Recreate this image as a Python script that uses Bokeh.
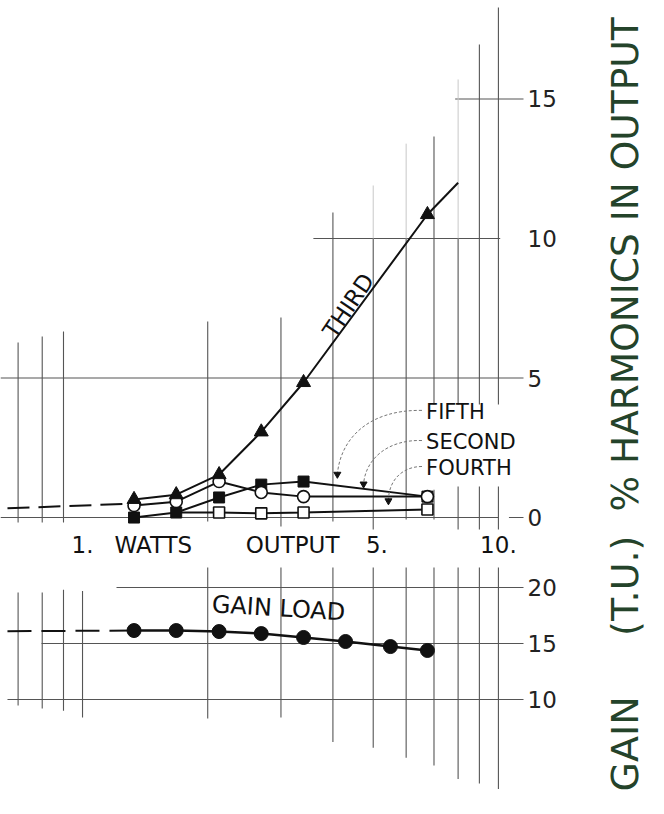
import math
from bokeh.plotting import figure
from bokeh.models import Range1d, FixedTicker
from bokeh.layouts import column, row
from bokeh.embed import file_html
from bokeh.resources import INLINE
from bokeh.core.properties import value

NBSP = "\u00a0"

# ---------------- data ----------------
# watts output at the measured points (log scale)
watts = [1.33, 1.68, 2.13, 2.69, 3.40, 4.29, 5.50, 6.75]

# % harmonics in output
third_w = [1.33, 1.68, 2.13, 2.69, 3.40, 6.75]
third = [0.65, 0.82, 1.54, 3.07, 4.84, 10.86]
third_end_w = [6.75, 8.0]          # drawn continuation of the third curve
third_end = [10.86, 12.0]
second_w = [1.33, 1.68, 2.13, 2.69, 3.40, 6.75]
second = [0.43, 0.57, 1.29, 0.90, 0.75, 0.75]
fifth_w = [1.33, 1.68, 2.13, 2.69, 3.40, 6.75]
fifth = [0.0, 0.18, 0.72, 1.18, 1.29, 0.75]
fourth_w = [1.68, 2.13, 2.69, 3.40, 6.75]
fourth = [0.18, 0.18, 0.15, 0.18, 0.29]
harm_dash_w = [0.66, 1.33]          # dashed extrapolation, low output
harm_dash = [0.33, 0.50]

# gain (T.U.)
gain = [16.16, 16.16, 16.07, 15.89, 15.54, 15.18, 14.73, 14.38]
gain_dash_w = [0.66, 1.33]
gain_dash = [16.1, 16.16]

# axis ticks / labels
x_ticks = [1, 1.48, 3.2, 5, 10]
x_tick_labels = ["1.", "WATTS", "OUTPUT", NBSP + "5.", "10."]
harm_ticks = [0, 5, 10, 15]
gain_ticks = [10, 15, 20]

# graph-paper rulings: horizontal (value, from watts, to watts)
harm_h = [(0, 0.635, 10.0), (0, 10.6, 12.0), (5, 0.635, 12.0),
          (10, 3.59, 10.1), (15, 7.87, 12.0)]
# vertical (watts, from %, to %)
harm_v = [(0.7, -0.18, 6.27), (0.8, -0.18, 6.49), (0.9, -0.18, 6.67),
          (2, -0.14, 7.03), (3, -0.32, 7.17), (4, -0.14, 10.93),
          (5, -0.43, 10.0), (6, -0.07, 10.0),
          (7, -0.07, 1.0), (7, 4.05, 13.66),
          (8, -0.43, 1.11), (8, 4.05, 10.0),
          (9, -0.43, 1.11), (9, 4.05, 16.95),
          (10, -0.43, 1.11), (10, 4.05, 18.28)]
harm_v_faint = [(5, 10.0, 11.9), (6, 10.0, 13.4), (8, 10.0, 15.7)]
gain_h = [(20, 1.207, 12.0), (15, 0.797, 12.0), (10, 0.66, 12.0)]
gain_v = [(0.7, 9.46, 19.55), (0.8, 9.2, 19.55), (0.9, 9.0, 19.8),
          (1, 8.4, 19.7), (2, 8.3, 23.1), (3, 8.4, 24.0), (4, 6.2, 23.0),
          (5, 5.7, 23.1), (6, 4.8, 23.6), (7, 4.1, 23.3), (8, 2.9, 23.3),
          (9, 2.5, 23.3), (10, 2.0, 23.3)]

# curve names with leader positions (label anchor and arrow tip)
names = ["FIFTH", "SECOND", "FOURTH"]
name_x = [6.70, 6.70, 6.70]
name_y = [3.80, 2.72, 1.79]
lead_x0 = [6.55, 6.55, 6.55]
lead_y0 = [3.84, 2.76, 1.83]
lead_cx0 = [4.85, 5.40, 5.90]
lead_cy0 = [3.87, 2.80, 1.83]
lead_cx1 = [4.17, 4.79, 5.44]
lead_cy1 = [2.80, 2.08, 1.36]
lead_x1 = [4.10, 4.74, 5.44]
lead_y1 = [1.55, 1.20, 0.60]

INK = "#111111"
RULE = "#555555"
TITLE = "#24432a"
FONT_NAME = "DejaVu Sans"
FONT = value(FONT_NAME)
XR = (0.635, 11.49)

# ---------------- figures ----------------
p1 = figure(frame_width=523, frame_height=531, x_axis_type="log",
            x_range=Range1d(*XR), y_range=Range1d(-0.50, 18.53),
            y_axis_location="right", output_backend="svg",
            toolbar_location=None, min_border_left=0, min_border_right=54,
            min_border_top=0, min_border_bottom=36)
p2 = figure(frame_width=523, frame_height=231, x_axis_type="log",
            x_range=Range1d(*XR), y_range=Range1d(1.16, 21.79),
            x_axis_location=None, y_axis_location="right",
            output_backend="svg", toolbar_location=None,
            min_border_left=0, min_border_right=54,
            min_border_top=0, min_border_bottom=0)
# strip on the right carrying the two upright axis titles
p3 = figure(width=71, height=798, x_range=Range1d(0, 1),
            y_range=Range1d(0, 798), x_axis_location=None,
            y_axis_location=None, output_backend="svg",
            toolbar_location=None, min_border=0)

for p in (p1, p2, p3):
    p.grid.visible = False
    p.outline_line_color = None
    p.background_fill_color = "white"
    p.border_fill_color = "white"

# rulings
p1.segment(x0=[h[1] for h in harm_h], y0=[h[0] for h in harm_h],
           x1=[h[2] for h in harm_h], y1=[h[0] for h in harm_h],
           line_color=RULE, line_width=1.1)
p1.segment(x0=[v[0] for v in harm_v], y0=[v[1] for v in harm_v],
           x1=[v[0] for v in harm_v], y1=[v[2] for v in harm_v],
           line_color=RULE, line_width=1.1)
p1.segment(x0=[v[0] for v in harm_v_faint], y0=[v[1] for v in harm_v_faint],
           x1=[v[0] for v in harm_v_faint], y1=[v[2] for v in harm_v_faint],
           line_color="#c8c8c8", line_width=1)
p2.segment(x0=[h[1] for h in gain_h], y0=[h[0] for h in gain_h],
           x1=[h[2] for h in gain_h], y1=[h[0] for h in gain_h],
           line_color=RULE, line_width=1.1)
p2.segment(x0=[v[0] for v in gain_v], y0=[v[1] for v in gain_v],
           x1=[v[0] for v in gain_v], y1=[v[2] for v in gain_v],
           line_color=RULE, line_width=1.1)

# harmonic curves
p1.line(harm_dash_w, harm_dash, line_color=INK, line_width=2, line_dash="22 9")
p1.line(fourth_w, fourth, line_color=INK, line_width=2)
p1.line(fifth_w, fifth, line_color=INK, line_width=2)
p1.line(second_w, second, line_color=INK, line_width=2)
p1.line(third_w, third, line_color=INK, line_width=2)
p1.line(third_end_w, third_end, line_color=INK, line_width=2)

p1.scatter(fourth_w[1:], fourth[1:], marker="square", size=11,
           fill_color="white", line_color=INK, line_width=1.6)
p1.scatter(fifth_w, fifth, marker="square", size=11,
           fill_color=INK, line_color=INK)
p1.scatter(second_w, second, marker="circle", size=12,
           fill_color="white", line_color=INK, line_width=1.6)
p1.scatter(third_w, third, marker="triangle", size=14,
           fill_color=INK, line_color=INK)

# leaders to curve names
p1.bezier(x0=lead_x0, y0=lead_y0, x1=lead_x1, y1=lead_y1,
          cx0=lead_cx0, cy0=lead_cy0, cx1=lead_cx1, cy1=lead_cy1,
          line_color="#777777", line_width=1, line_dash="3 2")
p1.scatter(lead_x1, lead_y1, marker="triangle", size=7, angle=math.pi,
           fill_color=INK, line_color=INK)

p1.text(x=name_x, y=name_y, text=names, text_font=FONT,
        text_font_size="21px", text_color=INK, text_align="left",
        text_baseline="middle")
p1.text(x=[4.36], y=[7.6], text=["THIRD"], angle=math.radians(56),
        text_font=FONT, text_font_size="23px", text_color=INK,
        text_align="center", text_baseline="middle")

# gain curve
p2.line(gain_dash_w, gain_dash, line_color=INK, line_width=2, line_dash="24 10")
p2.line(watts, gain, line_color=INK, line_width=2.5)
p2.scatter(watts, gain, marker="circle", size=14, fill_color=INK,
           line_color=INK)
p2.text(x=[2.96], y=[18.15], text=["GAIN LOAD"], angle=-0.06,
        text_font=FONT, text_font_size="24px", text_color=INK,
        text_align="center", text_baseline="middle")

# ---------------- axes ----------------
xa = p1.xaxis[0]
xa.ticker = FixedTicker(ticks=x_ticks, minor_ticks=[])
xa.major_label_overrides = {t: s for t, s in zip(x_ticks, x_tick_labels)}
xa.axis_line_color = None
xa.major_tick_line_color = None
xa.minor_tick_line_color = None
xa.major_tick_out = 0
xa.major_tick_in = 0
xa.major_label_standoff = 0
xa.major_label_text_font = FONT_NAME
xa.major_label_text_font_size = "23px"
xa.major_label_text_color = INK

for p, ticks in ((p1, harm_ticks), (p2, gain_ticks)):
    ya = p.yaxis[0]
    ya.ticker = FixedTicker(ticks=ticks, minor_ticks=[])
    ya.axis_line_color = None
    ya.major_tick_line_color = None
    ya.minor_tick_line_color = None
    ya.major_tick_out = 0
    ya.major_tick_in = 0
    ya.major_label_standoff = 4
    ya.major_label_text_font = FONT_NAME
    ya.major_label_text_font_size = "23px"
    ya.major_label_text_color = "#222222"

# axis titles (read upward)
gain_title = "GAIN" + NBSP * 5 + "(T.U.)"
p3.text(x=[0.662, 0.662], y=[534, 135],
        text=["% HARMONICS IN OUTPUT", gain_title],
        angle=math.pi / 2, text_align="center", text_baseline="middle",
        text_font=FONT, text_font_size=["37.5px", "38px"], text_color=TITLE)

layout = row(column(p1, p2), p3)
open("out.html", "w").write(file_html(layout, INLINE))
